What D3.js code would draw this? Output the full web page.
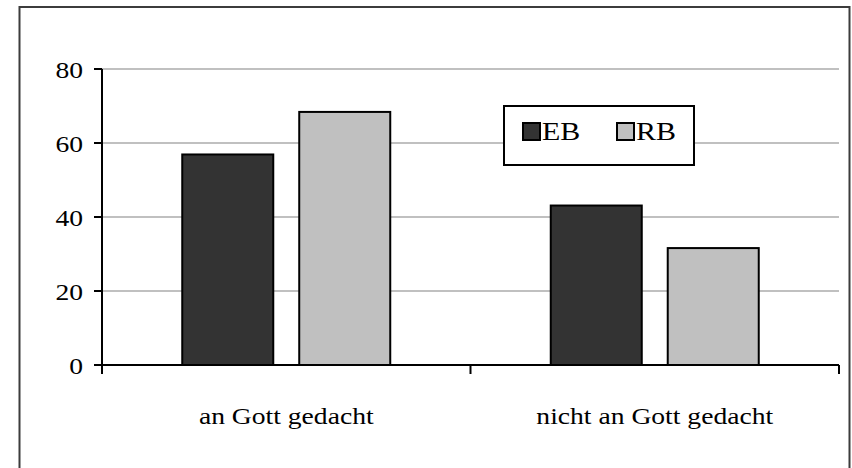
<!DOCTYPE html>
<html>
<head>
    <meta charset="utf-8">
    <title>Gott gedacht</title>
    <script src="https://d3js.org/d3.v7.min.js"></script>
    <style>
        body { margin: 0; background: #fff; }
    </style>
</head>
<body>
<div id="chart"></div>
<script type="text/javascript">

    let categories = ["an Gott gedacht", "nicht an Gott gedacht"];
    let series = ["EB", "RB"];
    let ebValues = [56.9, 43.1];
    let rbValues = [68.4, 31.6];
    let yTicks = [0, 20, 40, 60, 80];
    let colors = {EB: "#333333", RB: "#c0c0c0"};

    let W = 852, H = 468;
    let stretch = 1.15; // the picture is wider than the font
    let serif = "'Liberation Serif', 'Times New Roman', Times, 'DejaVu Serif', serif";

    let svg = d3.select("#chart")
        .append("svg")
        .attr("width", W)
        .attr("height", H)
        .attr("font-family", serif);

    // outer frame (no bottom edge visible)
    svg.append("path")
        .attr("d", "M19.5,470 V7 H849.5 V470")
        .attr("fill", "none")
        .attr("stroke", "#3c3c3c")
        .attr("stroke-width", 2);

    let x0 = d3.scaleBand()
        .domain(categories)
        .range([102, 839]);

    let x1 = d3.scaleBand()
        .domain(series)
        .range([0, x0.bandwidth()])
        .paddingInner(0.222)
        .paddingOuter(0.686);

    let y = d3.scaleLinear()
        .domain([0, 80])
        .range([365, 69]);

    // grid
    svg.selectAll("line.grid")
        .data(yTicks.filter(d => d > 0))
        .enter()
        .append("line")
        .attr("class", "grid")
        .attr("x1", 102)
        .attr("x2", 839)
        .attr("y1", d => y(d))
        .attr("y2", d => y(d))
        .attr("stroke", "#c0c0c0")
        .attr("stroke-width", 2);

    // bars
    let rows = categories.map((c, i) => ({cat: c, EB: ebValues[i], RB: rbValues[i]}));

    let groups = svg.selectAll("g.cat")
        .data(rows)
        .enter()
        .append("g")
        .attr("transform", d => "translate(" + x0(d.cat) + ",0)");

    groups.selectAll("rect")
        .data(d => series.map(s => ({s: s, v: d[s]})))
        .enter()
        .append("rect")
        .attr("x", d => x1(d.s))
        .attr("width", x1.bandwidth())
        .attr("y", d => y(d.v))
        .attr("height", d => y(0) - y(d.v))
        .attr("fill", d => colors[d.s])
        .attr("stroke", "#000")
        .attr("stroke-width", 2);

    // y axis
    svg.append("line")
        .attr("x1", 102).attr("x2", 102)
        .attr("y1", y(80)).attr("y2", y(0) + 9)
        .attr("stroke", "#000").attr("stroke-width", 2);

    svg.selectAll("line.ytick")
        .data(yTicks)
        .enter()
        .append("line")
        .attr("x1", 94).attr("x2", 102)
        .attr("y1", d => y(d)).attr("y2", d => y(d))
        .attr("stroke", "#000").attr("stroke-width", 2);

    svg.selectAll("text.ylab")
        .data(yTicks)
        .enter()
        .append("text")
        .attr("transform", d => "translate(83," + (y(d) + 8.5) + ") scale(" + stretch + ",1)")
        .attr("text-anchor", "end")
        .attr("font-size", "24px")
        .text(d => d);

    // x axis
    svg.append("line")
        .attr("x1", 102).attr("x2", 839)
        .attr("y1", y(0)).attr("y2", y(0))
        .attr("stroke", "#000").attr("stroke-width", 2);

    let xTickPos = categories.map(c => x0(c) + x0.bandwidth()).concat([x0.range()[0]]);
    svg.selectAll("line.xtick")
        .data(xTickPos)
        .enter()
        .append("line")
        .attr("x1", d => d).attr("x2", d => d)
        .attr("y1", y(0)).attr("y2", y(0) + 9)
        .attr("stroke", "#000").attr("stroke-width", 2);

    svg.selectAll("text.xlab")
        .data(categories)
        .enter()
        .append("text")
        .attr("transform", d => "translate(" + (x0(d) + x0.bandwidth() / 2) + ",424) scale(" + stretch + ",1)")
        .attr("text-anchor", "middle")
        .attr("font-size", "24px")
        .text(d => d);

    // legend
    let legend = svg.append("g").attr("transform", "translate(504,106)");
    legend.append("rect")
        .attr("width", 190).attr("height", 59)
        .attr("fill", "#fff")
        .attr("stroke", "#000").attr("stroke-width", 2);

    let items = legend.selectAll("g.item")
        .data(series)
        .enter()
        .append("g")
        .attr("transform", (d, i) => "translate(" + (19 + i * 94) + ",0)");

    items.append("rect")
        .attr("y", 17)
        .attr("width", 17).attr("height", 17)
        .attr("fill", d => colors[d])
        .attr("stroke", "#000").attr("stroke-width", 2);

    items.append("text")
        .attr("transform", "translate(19,34) scale(1.2,1)")
        .attr("font-size", "25px")
        .text(d => d);

</script>
</body>
</html>
